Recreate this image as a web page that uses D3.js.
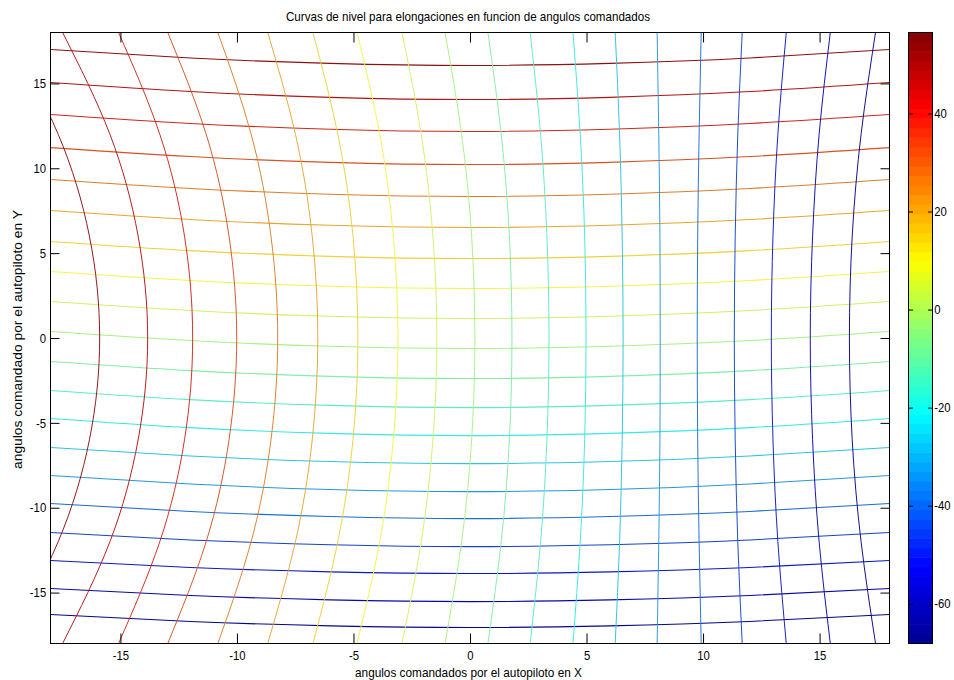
<!DOCTYPE html>
<html><head><meta charset="utf-8">
<script src="https://cdn.jsdelivr.net/npm/d3@7"></script>
<style>
body{margin:0;background:#fff}
svg text{font-family:"Liberation Sans",Arial,Helvetica,sans-serif;fill:#000}
</style>
</head><body>
<svg id="chart" width="954" height="680"></svg>
<script>
// ---------- data ----------
const titleText = "Curvas de nivel para elongaciones en funcion de angulos comandados";
const xLabelText = "angulos comandados por el autopiloto en X";
const yLabelText = "angulos comandado por el autopiloto en Y";
const xDomain = [-18, 18];
const yDomain = [-18, 18];
const xTicks = [-15, -10, -5, 0, 5, 10, 15];
const yTicks = [-15, -10, -5, 0, 5, 10, 15];
const colorTicks = [-60, -40, -20, 0, 20, 40];
const colorLimits = [-68.1, 56.5];
// contour levels (same 20 levels for both families), from top/left to bottom/right
const levels = [50.48, 44.56, 38.63, 32.71, 26.78, 20.86, 14.94, 9.01, 3.09, -2.84,
                -8.76, -14.68, -20.61, -26.53, -32.46, -38.38, -44.30, -50.23, -56.15, -62.08];
// horizontal family: y of each contour sampled at these x
const sampleX = [-18, -12, -6, 0, 6, 12, 18];
const horizY = [
  [17.00, 16.50, 16.18, 16.06, 16.18, 16.50, 17.00],
  [15.05, 14.52, 14.18, 14.05, 14.18, 14.52, 15.05],
  [13.17, 12.64, 12.30, 12.17, 12.30, 12.64, 13.17],
  [11.22, 10.69, 10.35, 10.22, 10.35, 10.69, 11.22],
  [9.34, 8.81, 8.47, 8.34, 8.47, 8.81, 9.34],
  [7.51, 6.98, 6.64, 6.51, 6.64, 6.98, 7.51],
  [5.69, 5.15, 4.81, 4.68, 4.81, 5.15, 5.69],
  [3.92, 3.39, 3.05, 2.92, 3.05, 3.39, 3.92],
  [2.15, 1.62, 1.28, 1.15, 1.28, 1.62, 2.15],
  [0.38, -0.15, -0.49, -0.62, -0.49, -0.15, 0.38],
  [-1.38, -1.92, -2.26, -2.39, -2.26, -1.92, -1.38],
  [-3.09, -3.63, -3.97, -4.10, -3.97, -3.63, -3.09],
  [-4.74, -5.28, -5.62, -5.75, -5.62, -5.28, -4.74],
  [-6.45, -6.95, -7.28, -7.40, -7.28, -6.95, -6.45],
  [-8.10, -8.60, -8.93, -9.05, -8.93, -8.60, -8.10],
  [-9.75, -10.22, -10.52, -10.64, -10.52, -10.22, -9.75],
  [-11.46, -11.90, -12.18, -12.29, -12.18, -11.90, -11.46],
  [-13.11, -13.52, -13.78, -13.88, -13.78, -13.52, -13.11],
  [-14.76, -15.17, -15.43, -15.53, -15.43, -15.17, -14.76],
  [-16.29, -16.70, -16.96, -17.06, -16.96, -16.70, -16.29]
];
// vertical family: x of each contour sampled at these y
const sampleY = [-18, -12, -6, 0, 6, 12, 18];
const vertX = [
  [-19.89, -17.67, -16.33, -15.89, -16.33, -17.67, -19.89],
  [-17.48, -15.45, -14.24, -13.83, -14.24, -15.45, -17.48],
  [-15.08, -13.31, -12.25, -11.90, -12.25, -13.31, -15.08],
  [-12.97, -11.32, -10.34, -10.01, -10.34, -11.32, -12.97],
  [-10.82, -9.39, -8.54, -8.25, -8.54, -9.39, -10.82],
  [-8.68, -7.49, -6.77, -6.53, -6.77, -7.49, -8.68],
  [-6.74, -5.67, -5.02, -4.81, -5.02, -5.67, -6.74],
  [-4.85, -3.87, -3.29, -3.09, -3.29, -3.87, -4.85],
  [-2.92, -2.09, -1.59, -1.42, -1.59, -2.09, -2.92],
  [-1.07, -0.36, 0.07, 0.21, 0.07, -0.36, -1.07],
  [0.77, 1.34, 1.69, 1.80, 1.69, 1.34, 0.77],
  [2.58, 3.03, 3.30, 3.39, 3.30, 3.03, 2.58],
  [4.42, 4.73, 4.92, 4.98, 4.92, 4.73, 4.42],
  [6.23, 6.42, 6.53, 6.57, 6.53, 6.42, 6.23],
  [8.03, 8.10, 8.15, 8.16, 8.15, 8.10, 8.03],
  [9.92, 9.83, 9.77, 9.75, 9.77, 9.83, 9.92],
  [11.68, 11.49, 11.38, 11.34, 11.38, 11.49, 11.68],
  [13.57, 13.21, 13.00, 12.93, 13.00, 13.21, 13.57],
  [15.46, 14.98, 14.70, 14.60, 14.70, 14.98, 15.46],
  [17.40, 16.78, 16.40, 16.28, 16.40, 16.78, 17.40]
];
// jet colormap stops
const jetStops = [0, 0.125, 0.375, 0.625, 0.875, 1];
const jetColors = ["#000090", "#0000ff", "#00ffff", "#ffff00", "#ff0000", "#800000"];

// ---------- layout ----------
const svg = d3.select("#chart");
const plot = {left: 50.5, right: 889.5, top: 32.5, bottom: 643.5};
const cbar = {left: 908.5, right: 932.5};
const TX = 0.87; // horizontal squeeze of the reference text
const fmt = d => String(d); // plain hyphen-minus like the reference

const x = d3.scaleLinear().domain(xDomain).range([plot.left, plot.right]);
const y = d3.scaleLinear().domain(yDomain).range([plot.bottom, plot.top]);
const cy = d3.scaleLinear().domain(colorLimits).range([plot.bottom, plot.top]);
const jet = d3.scaleLinear()
  .domain(jetStops.map(t => colorLimits[0] + t * (colorLimits[1] - colorLimits[0])))
  .range(jetColors).interpolate(d3.interpolateRgb).clamp(true);
// thin lines in the reference look slightly muted
function lineColor(v) {
  const c = d3.rgb(jet(v));
  const l = 0.299 * c.r + 0.587 * c.g + 0.114 * c.b;
  return d3.interpolateRgb(c, d3.rgb(l, l, l))(0.3);
}

svg.append("rect").attr("width", 954).attr("height", 680).attr("fill", "#fff");

svg.append("clipPath").attr("id", "clip").append("rect")
  .attr("x", plot.left).attr("y", plot.top)
  .attr("width", plot.right - plot.left).attr("height", plot.bottom - plot.top);

const g = svg.append("g").attr("clip-path", "url(#clip)");

const hLine = d3.line().x((d, i) => x(sampleX[i])).y(d => y(d)).curve(d3.curveNatural);
const vLine = d3.line().x(d => x(d)).y((d, i) => y(sampleY[i])).curve(d3.curveNatural);

g.selectAll("path.h").data(horizY).join("path").attr("class", "h")
  .attr("d", hLine).attr("fill", "none")
  .attr("stroke", (d, i) => lineColor(levels[i])).attr("stroke-width", 1.1);
g.selectAll("path.v").data(vertX).join("path").attr("class", "v")
  .attr("d", vLine).attr("fill", "none")
  .attr("stroke", (d, i) => lineColor(levels[i])).attr("stroke-width", 0.95);

// ---------- axes ----------
function styleAxis(sel, withLabels) {
  sel.select(".domain").remove();
  sel.selectAll(".tick line").attr("stroke", "#000");
  if (withLabels) {
    sel.selectAll(".tick text").attr("font-size", 13).attr("fill", "#000")
      .attr("transform", `scale(${TX},1)`);
  } else {
    sel.selectAll(".tick text").remove();
  }
}
svg.append("g").attr("transform", `translate(0,${plot.bottom})`)
  .call(d3.axisBottom(x).tickValues(xTicks).tickFormat(fmt).tickSizeInner(-10).tickSizeOuter(0).tickPadding(7.5))
  .call(s => styleAxis(s, true));
svg.append("g").attr("transform", `translate(0,${plot.top})`)
  .call(d3.axisTop(x).tickValues(xTicks).tickSizeInner(-10).tickSizeOuter(0))
  .call(s => styleAxis(s, false));
svg.append("g").attr("transform", `translate(${plot.left},0)`)
  .call(d3.axisLeft(y).tickValues(yTicks).tickFormat(fmt).tickSizeInner(-9).tickSizeOuter(0).tickPadding(5))
  .call(s => styleAxis(s, true));
svg.append("g").attr("transform", `translate(${plot.right},0)`)
  .call(d3.axisRight(y).tickValues(yTicks).tickSizeInner(-9).tickSizeOuter(0))
  .call(s => styleAxis(s, false));

svg.append("rect").attr("x", plot.left).attr("y", plot.top)
  .attr("width", plot.right - plot.left).attr("height", plot.bottom - plot.top)
  .attr("fill", "none").attr("stroke", "#000").attr("stroke-width", 1);

// ---------- colorbar ----------
const nBands = 64;
const bandVals = d3.range(nBands).map(i => colorLimits[0] + (i + 0.5) * (colorLimits[1] - colorLimits[0]) / nBands);
const bandH = (plot.bottom - plot.top) / nBands;
svg.append("g").selectAll("rect").data(bandVals).join("rect")
  .attr("x", cbar.left).attr("width", cbar.right - cbar.left)
  .attr("y", d => cy(d) - bandH / 2 - 0.3).attr("height", bandH + 0.6)
  .attr("fill", d => jet(d));
svg.append("g").attr("transform", `translate(${cbar.right},0)`)
  .call(d3.axisRight(cy).tickValues(colorTicks).tickFormat(fmt).tickSizeInner(-4.5).tickSizeOuter(0).tickPadding(2))
  .call(s => styleAxis(s, true));
svg.append("g").attr("transform", `translate(${cbar.left},0)`)
  .call(d3.axisLeft(cy).tickValues(colorTicks).tickSizeInner(-4.5).tickSizeOuter(0))
  .call(s => styleAxis(s, false));
svg.append("rect").attr("x", cbar.left).attr("y", plot.top)
  .attr("width", cbar.right - cbar.left).attr("height", plot.bottom - plot.top)
  .attr("fill", "none").attr("stroke", "#000").attr("stroke-width", 1);

// ---------- titles ----------
svg.append("text").attr("x", 468).attr("y", 21).attr("text-anchor", "middle")
  .attr("font-size", 13).attr("textLength", 364).attr("lengthAdjust", "spacingAndGlyphs")
  .text(titleText);
svg.append("text").attr("x", 468.5).attr("y", 677).attr("text-anchor", "middle")
  .attr("font-size", 13).attr("textLength", 227).attr("lengthAdjust", "spacingAndGlyphs")
  .text(xLabelText);
svg.append("text").attr("transform", "translate(22,339.5) rotate(-90)")
  .attr("text-anchor", "middle").attr("font-size", 13)
  .attr("textLength", 259).attr("lengthAdjust", "spacingAndGlyphs")
  .text(yLabelText);
</script>
</body></html>
